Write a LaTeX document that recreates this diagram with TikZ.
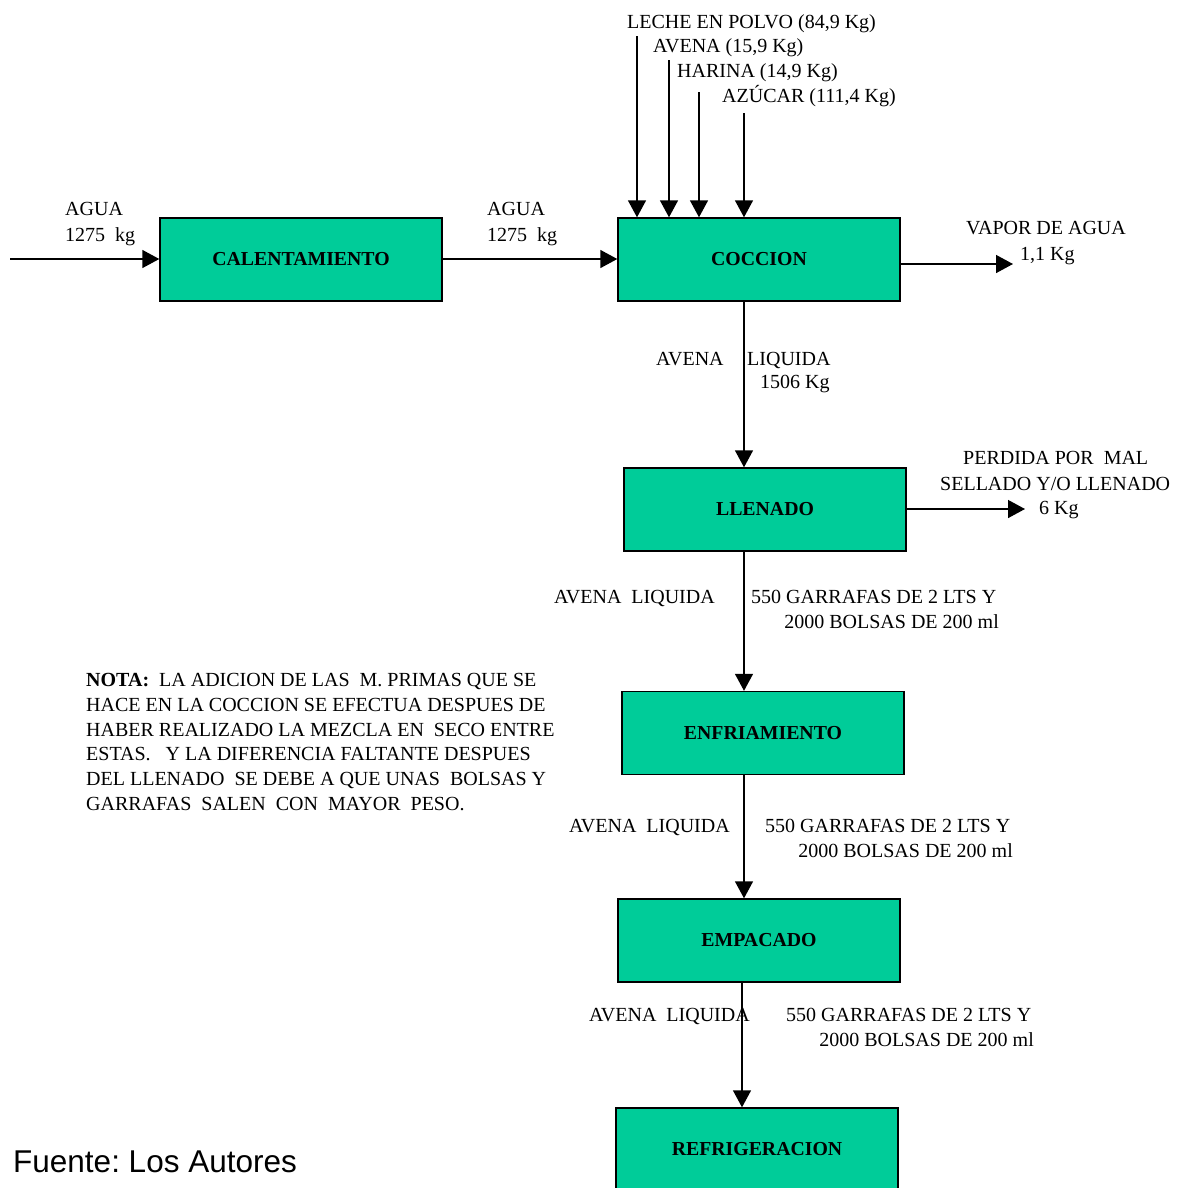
\documentclass[tikz,border=0pt]{standalone}
\usepackage{fontspec}
\setmainfont{Liberation Serif}
\newfontfamily\fuentefont{Liberation Sans}
\usetikzlibrary{arrows.meta}
\definecolor{procgreen}{RGB}{0,204,153}
\frenchspacing

\begin{document}
\begin{tikzpicture}[x=1pt,y=-1pt,
  proc/.style={draw=black, line width=1.4pt, fill=procgreen,
    minimum width=282pt, minimum height=83pt, inner sep=0pt,
    font=\fontsize{19.8}{22}\selectfont\bfseries},
  flow/.style={line width=1.4pt, -{Triangle[length=17pt,width=18pt]}},
  lbl/.style={inner sep=0pt, font=\fontsize{20}{24}\selectfont},
  lblw/.style={lbl, anchor=base west},
  lble/.style={lbl, anchor=base east},
]
\useasboundingbox (0,0) rectangle (1190,1187);

% process boxes
\node[proc] (cal)  at (301,259.5)  {CALENTAMIENTO};
\node[proc] (coc)  at (759,259.5)  {COCCION};
\node[proc] (lle)  at (765,509.5)  {LLENADO};
\node[proc] (enf)  at (763,733)    {ENFRIAMIENTO};
\node[proc] (emp)  at (759,940.5)  {EMPACADO};
\node[proc] (ref)  at (757,1149.5) {REFRIGERACION};

% free ends of the streams
\coordinate (aguaIn) at (10,259);
\coordinate (in1) at (637,36);
\coordinate (in2) at (669,60);
\coordinate (in3) at (699,92);
\coordinate (in4) at (744,113);
\coordinate (vapor) at (1013,264);
\coordinate (perd) at (1025,509);
\coordinate (colA) at (744,0);
\coordinate (colB) at (742,0);

% water feed
\draw[flow] (aguaIn) -- (cal.west |- aguaIn);
\draw[flow] (cal.east |- aguaIn) -- (coc.west |- aguaIn);

% raw materials into the cooker
\draw[flow] (in1) -- (in1 |- coc.north);
\draw[flow] (in2) -- (in2 |- coc.north);
\draw[flow] (in3) -- (in3 |- coc.north);
\draw[flow] (in4) -- (in4 |- coc.north);

% side outputs
\draw[flow] (coc.east |- vapor) -- (vapor);
\draw[flow] (lle.east |- perd) -- (perd);

% main line
\draw[flow] (coc.south -| colA) -- (lle.north -| colA);
\draw[flow] (lle.south -| colA) -- (enf.north -| colA);
\draw[flow] (enf.south -| colA) -- (emp.north -| colA);
\draw[flow] (emp.south -| colB) -- (ref.north -| colB);

% raw material labels
\node[lblw] (tLeche)  at (627,28)  {LECHE EN POLVO (84,9 Kg)};
\node[lblw] (tAvena)  at (653,52)  {AVENA (15,9 Kg)};
\node[lblw] (tHarina) at (677,77)  {HARINA (14,9 Kg)};
\node[lblw] (tAzucar) at (722,102) {AZÚCAR (111,4 Kg)};

% water labels
\node[lblw] (tAgua1)  at (65,215)  {AGUA};
\node[lblw] (tKg1)    at (65,241)  {1275\ \ kg};
\node[lblw] (tAgua2)  at (487,215) {AGUA};
\node[lblw] (tKg2)    at (487,241) {1275\ \ kg};

% steam
\node[lblw] (tVapor)  at (966,234) {VAPOR DE AGUA};
\node[lblw] (tVkg)    at (1020,260) {1,1 Kg};

% cooked product
\node[lblw] (tAv)     at (656,365) {AVENA};
\node[lblw] (tLiq)    at (747,365) {LIQUIDA};
\node[lblw] (tLkg)    at (760,388) {1506 Kg};

% filling losses
\node[lblw] (tPerd1)  at (963,464) {PERDIDA POR\ \ MAL};
\node[lblw] (tPerd2)  at (940,490) {SELLADO Y/O LLENADO};
\node[lblw] (tPerd3)  at (1039,514) {6 Kg};

% product after filling
\node[lble] (tL1a) at (715,603) {AVENA\ \ LIQUIDA};
\node[lblw] (tL1b) at (751,603) {550 GARRAFAS DE 2 LTS Y};
\node[lble] (tL1c) at (999,628) {2000 BOLSAS DE 200 ml};

% product after cooling
\node[lble] (tL2a) at (730,832) {AVENA\ \ LIQUIDA};
\node[lblw] (tL2b) at (765,832) {550 GARRAFAS DE 2 LTS Y};
\node[lble] (tL2c) at (1013,857) {2000 BOLSAS DE 200 ml};

% product after packing
\node[lble] (tL3a) at (750,1021) {AVENA\ \ LIQUIDA};
\node[lblw] (tL3b) at (786,1021) {550 GARRAFAS DE 2 LTS Y};
\node[lble] (tL3c) at (1034,1046) {2000 BOLSAS DE 200 ml};

% note
\node[lbl, anchor=north west, align=left,
      font=\fontsize{20}{24.8}\selectfont] (nota) at (86,673)
  {\textbf{NOTA:}\ \ LA ADICION DE LAS\ \ M. PRIMAS QUE SE\\
   HACE EN LA COCCION SE EFECTUA DESPUES DE\\
   HABER REALIZADO LA MEZCLA EN\ \ SECO ENTRE\\
   ESTAS.\ \ \ Y LA DIFERENCIA FALTANTE DESPUES\\
   DEL LLENADO\ \ SE DEBE A QUE UNAS\ \ BOLSAS Y\\
   GARRAFAS\ \ SALEN\ \ CON\ \ MAYOR\ \ PESO.};

% source
\node[anchor=base west, inner sep=0pt,
      font=\fuentefont\fontsize{31.5}{36}\selectfont] (fuente) at (13,1172)
  {Fuente: Los Autores};
\end{tikzpicture}
\end{document}
